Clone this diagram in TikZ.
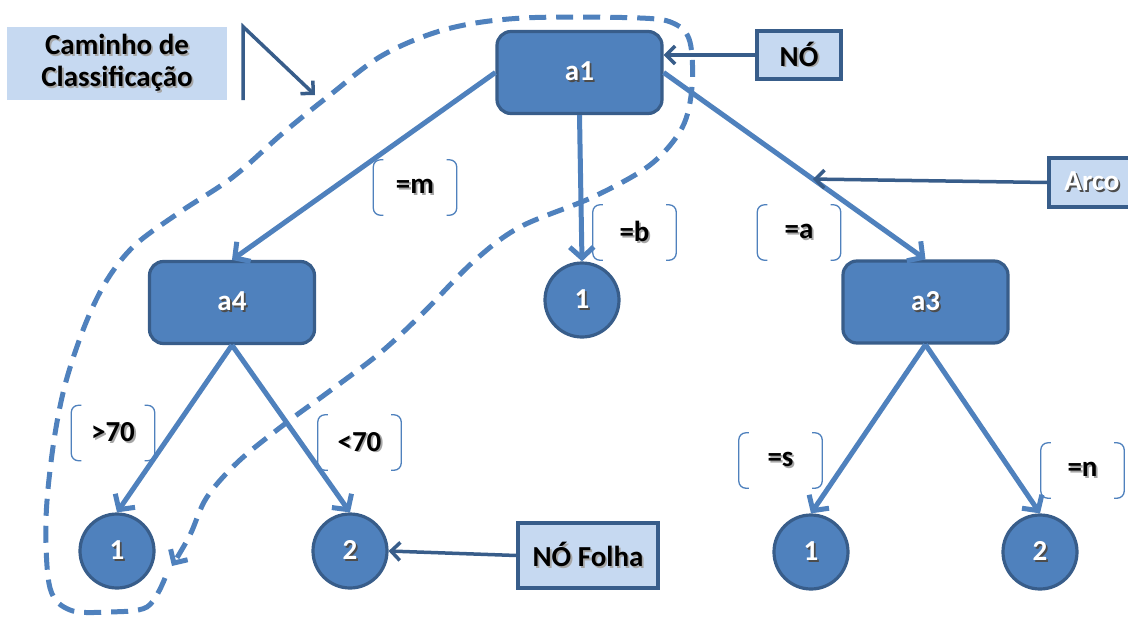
\documentclass[tikz,border=0pt]{standalone}
\usepackage{fontspec}
\setmainfont{Carlito}
\usetikzlibrary{arrows.meta,calc}
\definecolor{nodefill}{HTML}{4F81BD}
\definecolor{nodeline}{HTML}{385D8A}
\definecolor{notefill}{HTML}{C6D9F1}
% text with a soft drop shadow
\newcommand{\shtext}[2]{\makebox[0pt][l]{\hspace*{1.8pt}\raisebox{-1.8pt}{\textcolor{#1}{#2}}}#2}
\newcommand{\dk}[1]{\shtext{black!35}{#1}}
\newcommand{\lt}[1]{\shtext{black!70}{#1}}

\tikzset{
  every node/.style={font=\fontsize{29}{32}\selectfont\bfseries, inner sep=0pt},
  testnode/.style={draw=nodeline, fill=nodefill, line width=3.2pt, rounded corners=14pt,
    minimum width=165pt, minimum height=82pt, text=white},
  leaf/.style={circle, draw=nodeline, fill=nodefill, line width=3.2pt, minimum size=74pt, text=white},
  note/.style={draw=nodeline, fill=notefill, line width=3.2pt, text=black},
  edgelabel/.style={minimum width=83pt, minimum height=55pt, text=black},
  brk/.style={draw=nodefill, line width=1.3pt, rounded corners=7pt},
  branch/.style={draw=nodefill, line width=5pt, -{Straight Barb[length=11pt,width=24pt]}},
  pointer/.style={draw=nodeline, line width=3.5pt, -{Straight Barb[length=9pt,width=18pt]}},
  routeline/.style={draw=nodefill, line width=5pt, dash pattern=on 17pt off 10pt,
    -{Straight Barb[length=10pt,width=20pt]}},
}

\begin{document}
\begin{tikzpicture}[x=1pt,y=-1pt]
\clip (0,0) rectangle (1128,619);
\fill[white] (0,0) rectangle (1128,619);

% decision nodes
\node[testnode] (a1) at (579.5,72.5) {\lt{a1}};
\node[testnode] (a4) at (232,302.5) {\lt{a4}};
\node[testnode] (a3) at (925.5,302) {\lt{a3}};

% leaves
\node[leaf] (m1) at (582,300) {\lt{1}};
\node[leaf] (l1) at (117,551) {\lt{1}};
\node[leaf] (l2) at (350,551) {\lt{2}};
\node[leaf] (r1) at (811,552) {\lt{1}};
\node[leaf] (r2) at (1040,552) {\lt{2}};

% branch labels
\node[edgelabel] (lm) at (415,187.5) {\dk{=m}};
\node[edgelabel] (lb) at (634.5,232.5) {\dk{=b}};
\node[edgelabel] (la) at (799,232.5) {\dk{=a}};
\node[edgelabel] (lg) at (113,433) {\dk{>70}};
\node[edgelabel] (ll) at (359.5,442.5) {\dk{<70}};
\node[edgelabel] (ls) at (780.5,460.5) {\dk{=s}};
\node[edgelabel] (ln) at (1082.5,470.5) {\dk{=n}};
\foreach \n in {lm,lb,la,lg,ll,ls,ln} {
  \draw[brk] ([xshift=10pt]\n.north west) -- (\n.north west) -- (\n.south west) -- ([xshift=10pt]\n.south west);
  \draw[brk] ([xshift=-10pt]\n.north east) -- (\n.north east) -- (\n.south east) -- ([xshift=-10pt]\n.south east);
}

% branches
\draw[branch] (a1.west) -- (a4.north);
\draw[branch] (a1.south) -- (m1.north);
\draw[branch] (a1.east) -- (a3.north);
\draw[branch] (a4.south) -- (l1.north);
\draw[branch] (a4.south) -- (l2.north);
\draw[branch] (a3.south) -- (r1.north);
\draw[branch] (a3.south) -- (r2.north);

% callouts
\node[note, minimum width=84pt, minimum height=48pt] (no) at (799,55) {\dk{NÓ}};
\node[note, minimum width=86pt, minimum height=49pt, text=white] (arco) at (1092,182.5) {\lt{Arco}};
\node[note, minimum width=140pt, minimum height=65pt] (folha) at (588,555.5) {\dk{NÓ Folha}};
\node[fill=notefill, minimum width=220pt, minimum height=73pt, align=center, text=black] (cam) at (117,63.5)
  {\dk{Caminho de}\\\dk{Classificação}};

\coordinate (arctarget) at ($(a1.east)!0.57!(a3.north)$);
\coordinate (camtip) at (315,95);
\draw[pointer] (no.west) -- (a1.east |- no.west);
\draw[pointer] (arco.west) -- (arctarget);
\draw[pointer] (folha.west) -- (l2.east);
\draw[pointer] ([xshift=16pt]cam.south east) -- ([xshift=16pt]cam.north east) -- (camtip);

% classification path
\draw[routeline] plot[smooth, tension=0.55] coordinates {
  (165,578) (147,607) (107,612) (70,610) (50,588) (46,520) (53,447) (65,385)
  (85,325) (107,280) (135,245) (180,212) (233,177) (283,133) (330,95) (383,55)
  (447,29) (523,18) (640,18) (675,24) (690,42) (692,87) (682,128) (650,165)
  (593,197) (520,227) (473,262) (423,313) (380,353) (327,393) (290,420)
  (240,460) (207,497) (190,535) (172,566)};
\end{tikzpicture}
\end{document}
